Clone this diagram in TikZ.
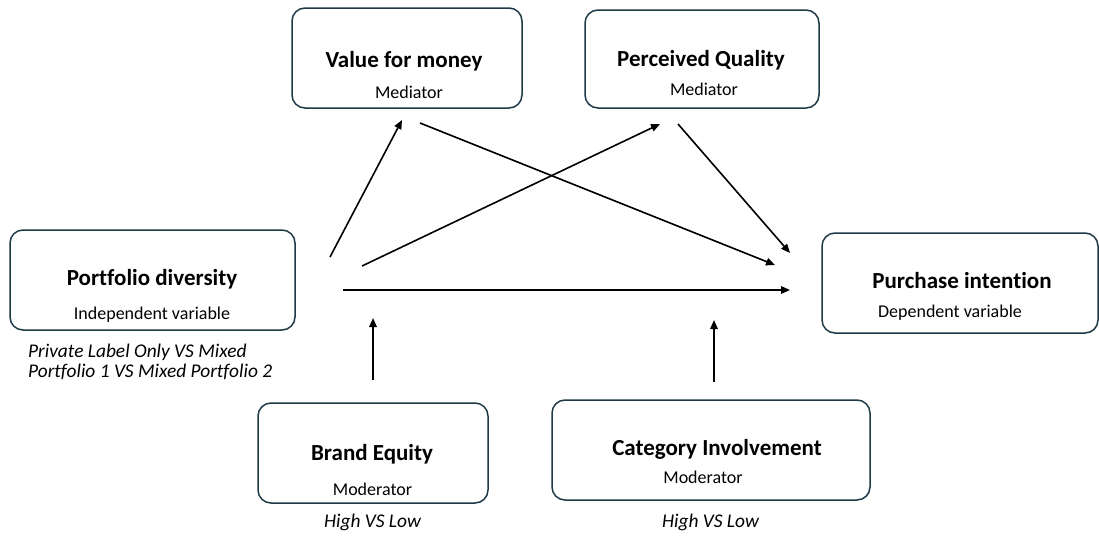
\documentclass[tikz,border=0pt]{standalone}
\usepackage{fontspec}
\setmainfont{Carlito}[Ligatures=NoCommon]
\usetikzlibrary{arrows.meta}
\definecolor{boxline}{HTML}{1E3947}

\begin{document}
\begin{tikzpicture}[x=1pt,y=-1pt,
  box/.style={draw=boxline, line width=1.5pt, rounded corners=13pt, inner sep=0pt},
  title/.style={anchor=base, inner sep=0pt, font=\bfseries\fontsize{23}{27}\selectfont},
  role/.style={anchor=base, inner sep=0pt, font=\fontsize{18}{21}\selectfont},
  note/.style={anchor=base, inner sep=0pt, font=\itshape\fontsize{19.4}{22}\selectfont},
  link/.style={line width=1.6pt, -{Triangle[length=9pt,width=7.5pt]}}]
\useasboundingbox (0,0) rectangle (1099,538);

% boxes
\node[box, minimum width=285pt, minimum height=100pt] (pd) at (152.5,280) {};
\node[box, minimum width=230pt, minimum height=100pt] (vm) at (407,58) {};
\node[box, minimum width=234pt, minimum height=98pt] (pq) at (702,59) {};
\node[box, minimum width=276pt, minimum height=100pt] (pi) at (960,283) {};
\node[box, minimum width=230pt, minimum height=100pt] (be) at (373,453) {};
\node[box, minimum width=318pt, minimum height=100pt] (ci) at (711,450) {};

% box texts
\node[title] (pdt) at (152,285) {Portfolio diversity};
\node[role]  (pdr) at (152,319) {Independent variable};
\node[title] (vmt) at (404,67) {Value for money};
\node[role]  (vmr) at (409,98) {Mediator};
\node[title] (pqt) at (701,66) {Perceived Quality};
\node[role]  (pqr) at (704,95) {Mediator};
\node[title] (pit) at (962,288) {Purchase intention};
\node[role]  (pir) at (950,317) {Dependent variable};
\node[title] (bet) at (372,460) {Brand Equity};
\node[role]  (ber) at (372.5,495) {Moderator};
\node[title] (cit) at (717,455) {Category Involvement};
\node[role]  (cir) at (703,483) {Moderator};

% level notes
\node[note, anchor=base west] (pdn1) at (28,357) {Private Label Only VS Mixed};
\node[note, anchor=base west] (pdn2) at (28,377) {Portfolio 1 VS Mixed Portfolio 2};
\node[note] (ben) at (372.5,527) {High VS Low};
\node[note] (cin) at (710.5,527) {High VS Low};

% connector end points
\coordinate (a1s) at (330,257);
\coordinate (a1e) at (402,120);
\coordinate (a2s) at (420,123);
\coordinate (a2e) at (775,265);
\coordinate (a3s) at (362,266);
\coordinate (a3e) at (660,124);
\coordinate (a4s) at (678,124);
\coordinate (a4e) at (790,253);
\coordinate (a5s) at (343,290);
\coordinate (a5e) at (790,290);
\coordinate (a6s) at (373,380);
\coordinate (a6e) at (373,318);
\coordinate (a7s) at (714,382);
\coordinate (a7e) at (714,320);

% paths
\draw[link] (a1s) -- (a1e);
\draw[link] (a2s) -- (a2e);
\draw[link] (a3s) -- (a3e);
\draw[link] (a4s) -- (a4e);
\draw[link] (a5s) -- (a5e);
\draw[link] (a6s) -- (a6e);
\draw[link] (a7s) -- (a7e);
\end{tikzpicture}
\end{document}
